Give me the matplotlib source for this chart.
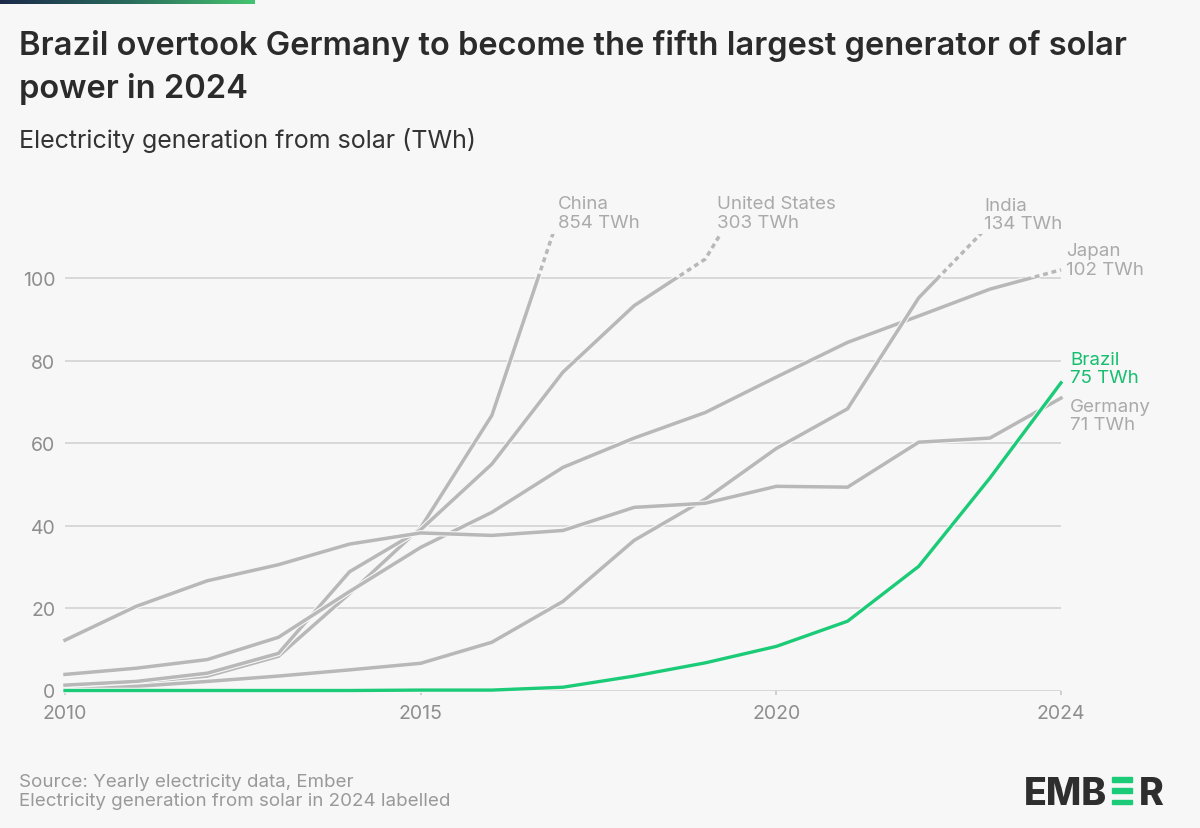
import numpy as np
import matplotlib.pyplot as plt
import matplotlib.patheffects as pe
from matplotlib.patches import Rectangle
from matplotlib.colors import LinearSegmentedColormap

years = list(range(2010, 2025))

# solar generation, TWh
china = [0.6, 1.9, 3.5, 8.3, 23.5, 39.5, 66.7, 118, 177, 224, 261, 327, 428, 584, 854]
usa = [1.3, 2.2, 4.2, 9.0, 28.8, 39.0, 54.9, 77.2, 93.3, 104.6, 133, 165, 205, 240, 303]
japan = [3.9, 5.4, 7.5, 12.9, 24.0, 34.7, 43.2, 54.1, 61.2, 67.4, 76.0, 84.4, 90.8, 97.3, 102]
india = [0.1, 1.0, 2.2, 3.5, 5.0, 6.6, 11.7, 21.6, 36.4, 46.4, 58.7, 68.3, 95.2, 113, 134]
germany = [12.2, 20.4, 26.6, 30.5, 35.5, 38.2, 37.6, 38.8, 44.4, 45.4, 49.5, 49.3, 60.2, 61.2, 70.9]
brazil = [0, 0, 0, 0, 0, 0.1, 0.1, 0.8, 3.5, 6.7, 10.7, 16.8, 30.1, 51.5, 74.6]

grey_series = [china, usa, japan, india, germany]
label_names = ["China", "United States", "India", "Japan", "Brazil", "Germany"]
label_values = ["854 TWh", "303 TWh", "134 TWh", "102 TWh", "75 TWh", "71 TWh"]

yticks = [0, 20, 40, 60, 80, 100]
xticks = [2010, 2015, 2020, 2024]

BG = "#f7f7f7"
GREY = "#b8b8b8"
GREEN = "#1ccb77"
W, H = 1200, 829

plt.rcParams['font.family'] = ['Inter', 'DejaVu Sans']

fig = plt.figure(figsize=(W / 100, H / 100), dpi=100, facecolor=BG)


def fx(px):
    return px / W


def fy(py):
    return 1 - py / H


ax = fig.add_axes([fx(65), fy(691.5), fx(996), 456.6 / H])
ax.set_facecolor(BG)
ax.set_xlim(2010, 2024)
ax.set_ylim(0, 110.7)

for s in ax.spines.values():
    s.set_visible(False)

ax.set_yticks(yticks)
ax.set_xticks(xticks)
ax.yaxis.grid(True, color="#d2d2d2", lw=1.2)
ax.set_axisbelow(True)
ax.tick_params(axis='y', length=0, pad=7, labelsize=14, labelcolor="#8e8e8e")
ax.tick_params(axis='x', length=3, width=1.2, color="#c8c8c8", pad=7,
               labelsize=14, labelcolor="#8e8e8e")


def draw(vals, color, lw, z):
    halo = [pe.Stroke(linewidth=lw + 1.6, foreground=BG), pe.Normal()]
    solid, = ax.plot(years, vals, color=color, lw=lw, zorder=z,
                     solid_joinstyle='miter', path_effects=halo)
    solid.set_clip_path(Rectangle((2009, -5), 16, 105, transform=ax.transData))
    dash, = ax.plot(years, vals, color=color, lw=lw, zorder=z,
                    ls=(0, (1.4, 1.1)), path_effects=halo)
    dash.set_clip_path(Rectangle((2009, 100), 16, 10.7, transform=ax.transData))


for vals in grey_series:
    draw(vals, GREY, 2.5, 3)
draw(brazil, GREEN, 2.4, 4)

# end labels
label_pos = [(558, 209, 228), (717, 209, 228), (984, 211, 229),
             (1066, 256, 275), (1070, 365, 383), (1070, 412, 430)]
for name, val, (px, b1, b2) in zip(label_names, label_values, label_pos):
    c = "#15bf6f" if name == "Brazil" else "#aaaaaa"
    fig.text(fx(px), fy(b1), name, color=c, fontsize=13.5, va='baseline')
    fig.text(fx(px), fy(b2), val, color=c, fontsize=13.5, va='baseline')

# titles
fig.text(fx(19), fy(55), "Brazil overtook Germany to become the fifth largest generator of solar",
         fontsize=23.5, weight='semibold', color="#2b2b2b", va='baseline')
fig.text(fx(19), fy(98), "power in 2024",
         fontsize=23.5, weight='semibold', color="#2b2b2b", va='baseline')
fig.text(fx(19), fy(148), "Electricity generation from solar (TWh)",
         fontsize=18, color="#333333", va='baseline')

# footer
fig.text(fx(19), fy(787), "Source: Yearly electricity data, Ember",
         fontsize=13.5, color="#999999", va='baseline')
fig.text(fx(19), fy(806), "Electricity generation from solar in 2024 labelled",
         fontsize=13.5, color="#999999", va='baseline')

# logo
fig.text(fx(1024), fy(805), "EMB", fontsize=27, weight='heavy', color="#2e2e2e", va='baseline')
fig.text(fx(1139), fy(805), "R", fontsize=27, weight='heavy', color="#2e2e2e", va='baseline')
for top in [778, 789, 800.5]:
    fig.patches.append(Rectangle((fx(1112), fy(top + 4.6)), fx(20), 4.6 / H,
                                 transform=fig.transFigure, color="#1ccb77"))

# top gradient strip
bar = fig.add_axes([0, fy(5), fx(255), 5 / H])
grad = np.linspace(0, 1, 256).reshape(1, -1)
cmap = LinearSegmentedColormap.from_list("ember", ["#1b2a4a", "#2a6a5c", "#45c470"])
bar.imshow(grad, aspect='auto', cmap=cmap)
bar.axis('off')

fig.savefig("out.png", dpi=100, facecolor=BG)
